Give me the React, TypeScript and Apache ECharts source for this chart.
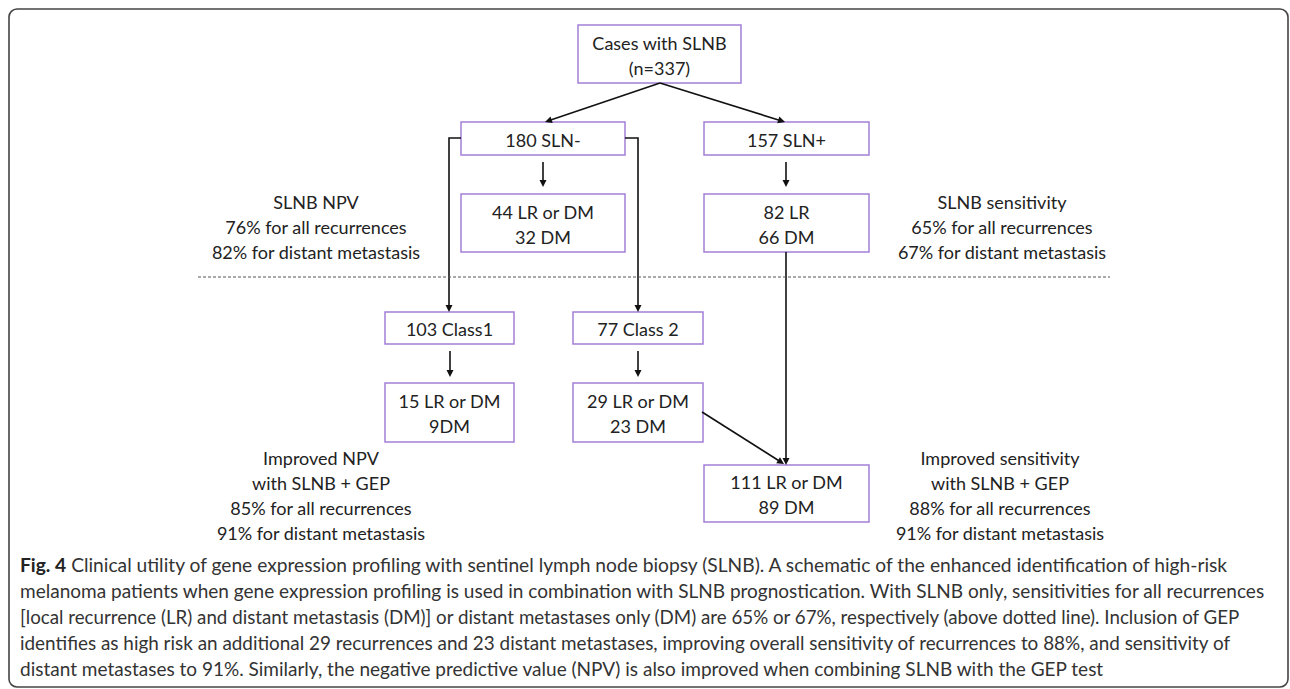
import React, { useEffect, useRef } from "react";
import * as echarts from "echarts";

// ---- content ----
const nodeLabels = [
  "Cases with SLNB\n(n=337)",
  "180 SLN-",
  "157 SLN+",
  "44 LR or DM\n32 DM",
  "82 LR\n66 DM",
  "103 Class1",
  "77 Class 2",
  "15 LR or DM\n9DM",
  "29 LR or DM\n23 DM",
  "111 LR or DM\n89 DM",
];
const slnbNpvLines = ["SLNB NPV", "76% for all recurrences", "82% for distant metastasis"];
const slnbSensLines = ["SLNB sensitivity", "65% for all recurrences", "67% for distant metastasis"];
const improvedNpvLines = ["Improved NPV", "with SLNB + GEP", "85% for all recurrences", "91% for distant metastasis"];
const improvedSensLines = ["Improved sensitivity", "with SLNB + GEP", "88% for all recurrences", "91% for distant metastasis"];
const captionBold = "Fig. 4";
const captionLines = [
  " Clinical utility of gene expression profiling with sentinel lymph node biopsy (SLNB). A schematic of the enhanced identification of high-risk",
  "melanoma patients when gene expression profiling is used in combination with SLNB prognostication. With SLNB only, sensitivities for all recurrences",
  "[local recurrence (LR) and distant metastasis (DM)] or distant metastases only (DM) are 65% or 67%, respectively (above dotted line). Inclusion of GEP",
  "identifies as high risk an additional 29 recurrences and 23 distant metastases, improving overall sensitivity of recurrences to 88%, and sensitivity of",
  "distant metastases to 91%. Similarly, the negative predictive value (NPV) is also improved when combining SLNB with the GEP test",
];

// ---- layout ----
const boxLayout: number[][] = [
  [578, 25, 741, 83],
  [461, 122, 625, 155],
  [704, 122, 869, 155],
  [461, 194, 625, 252],
  [704, 194, 869, 252],
  [385, 312, 514, 344],
  [573, 312, 703, 344],
  [385, 383, 514, 442],
  [573, 383, 703, 442],
  [704, 465, 869, 522],
];
const captionLeft = 20;
const captionRightEdges = [1232, 1267, 1242, 1232, 1105];

const FONT = "Lato, 'Open Sans', sans-serif";
const BOX_COLOR = "#a27fd6";
const LINE_COLOR = "#111";
const TEXT_COLOR = "#222";
const CAP_SIZE = 19;

function arrow(points: number[][]): any[] {
  const els: any[] = [];
  const n = points.length;
  const tip = points[n - 1];
  const prev = points[n - 2];
  const dx = tip[0] - prev[0];
  const dy = tip[1] - prev[1];
  const len = Math.sqrt(dx * dx + dy * dy);
  const ux = dx / len;
  const uy = dy / len;
  const L = 7;
  const W = 3.5;
  const base = [tip[0] - ux * L, tip[1] - uy * L];
  const pts = points.slice(0, n - 1).concat([[tip[0] - ux * (L - 1), tip[1] - uy * (L - 1)]]);
  els.push({
    type: "polyline",
    shape: { points: pts },
    style: { stroke: LINE_COLOR, lineWidth: 1.6, fill: null },
  });
  els.push({
    type: "polygon",
    shape: {
      points: [
        tip,
        [base[0] - uy * W, base[1] + ux * W],
        [base[0] + uy * W, base[1] - ux * W],
      ],
    },
    style: { fill: LINE_COLOR },
  });
  return els;
}

function textBlock(lines: string[], cx: number, y0: number, lh: number): any[] {
  return lines.map((t, i) => ({
    type: "text",
    style: {
      text: t,
      x: cx,
      y: y0 + i * lh,
      align: "center",
      verticalAlign: "middle",
      fill: TEXT_COLOR,
      fontSize: 18,
      fontFamily: FONT,
    },
  }));
}

function measure(text: string, bold: boolean): number {
  const c = document.createElement("canvas");
  const ctx = c.getContext("2d");
  if (!ctx) return 0;
  ctx.font = `${bold ? "bold " : ""}${CAP_SIZE}px Lato, 'Open Sans', sans-serif`;
  return ctx.measureText(text).width;
}

export default function App() {
  const ref = useRef<HTMLDivElement>(null);
  useEffect(() => {
    if (!ref.current) return;
    const chart = echarts.init(ref.current, null, { renderer: "svg" });
    const els: any[] = [];

    // outer frame
    els.push({
      type: "rect",
      shape: { x: 9, y: 9, width: 1279, height: 678, r: 8 },
      style: { fill: null, stroke: "#444", lineWidth: 1.6 },
    });

    // boxes
    nodeLabels.forEach((label, i) => {
      const [x1, y1, x2, y2] = boxLayout[i];
      els.push({
        type: "rect",
        shape: { x: x1, y: y1, width: x2 - x1, height: y2 - y1 },
        style: { fill: "#fff", stroke: BOX_COLOR, lineWidth: 1.5 },
      });
      els.push({
        type: "text",
        style: {
          text: label,
          x: (x1 + x2) / 2,
          y: (y1 + y2) / 2 + 1,
          align: "center",
          verticalAlign: "middle",
          fill: TEXT_COLOR,
          fontSize: 18,
          lineHeight: 25,
          fontFamily: FONT,
        },
      });
    });

    // connectors
    els.push(...arrow([[660, 83], [545, 122]]));
    els.push(...arrow([[660, 83], [785, 122]]));
    els.push(...arrow([[543, 162], [543, 187]]));
    els.push(...arrow([[786, 162], [786, 187]]));
    els.push(...arrow([[461, 138], [449, 138], [449, 312]]));
    els.push(...arrow([[625, 138], [638, 138], [638, 312]]));
    els.push(...arrow([[450, 351], [450, 377]]));
    els.push(...arrow([[638, 351], [638, 377]]));
    els.push(...arrow([[786, 252], [786, 465]]));
    els.push(...arrow([[702, 412], [784, 464]]));

    // dotted separator
    els.push({
      type: "line",
      shape: { x1: 198, y1: 277, x2: 1110, y2: 277 },
      style: { stroke: "#555", lineWidth: 1, lineDash: [3, 2] },
    });

    // annotations
    els.push(...textBlock(slnbNpvLines, 316, 202, 25));
    els.push(...textBlock(slnbSensLines, 1002, 202, 25));
    els.push(...textBlock(improvedNpvLines, 321, 458, 25));
    els.push(...textBlock(improvedSensLines, 1000, 458, 25));

    // caption
    captionLines.forEach((t, i) => {
      const isFirst = i === 0;
      const w = measure(t, false) + (isFirst ? measure(captionBold, true) : 0);
      const target = captionRightEdges[i] - captionLeft;
      let sx = w > 0 ? target / w : 1;
      sx = Math.max(0.9, Math.min(1.1, sx));
      els.push({
        type: "text",
        x: captionLeft,
        y: 565 + i * 25.8,
        scaleX: sx,
        style: {
          text: isFirst ? `{b|${captionBold}}${t}` : t,
          x: 0,
          y: 0,
          align: "left",
          verticalAlign: "middle",
          fill: "#333",
          fontSize: CAP_SIZE,
          fontFamily: FONT,
          rich: {
            b: { fontWeight: "bold", fontSize: CAP_SIZE, fontFamily: FONT, fill: "#222" },
          },
        },
      });
    });

    chart.setOption({
      animation: false,
      backgroundColor: "#fff",
      graphic: { elements: els },
    });
    return () => chart.dispose();
  }, []);
  return (
    <div
      ref={ref}
      style={{ position: "fixed", left: 0, top: 0, width: 1290, height: 689 }}
    />
  );
}
